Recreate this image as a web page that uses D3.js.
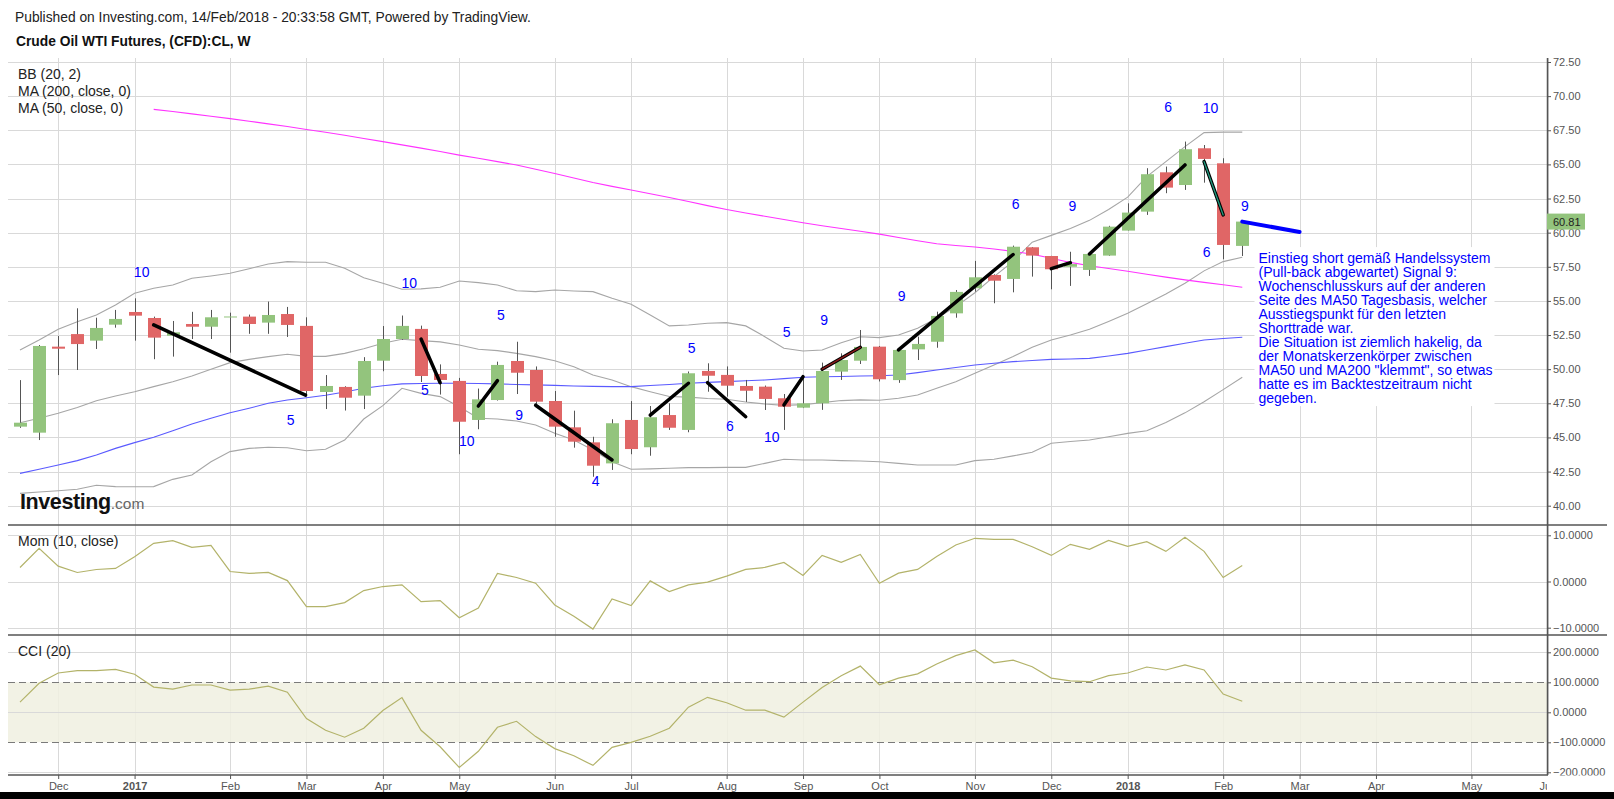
<!DOCTYPE html>
<html>
<head>
<meta charset="utf-8">
<script src="https://d3js.org/d3.v7.min.js"></script>
<style>
  body { margin: 0; background: #fff; }
  svg { display: block; }
  text { font-family: Arial, "Liberation Sans", sans-serif; }
</style>
</head>
<body>
<svg id="chart" width="1614" height="799"></svg>
<script>
// ---- data (weekly bars, first bar = week of 21 Nov 2016) ----
const firstWeek = '2016-11-21';

const opens  = [45.79,45.35,51.65,52.57,52.09,53.26,54.19,53.75,52.45,53.31,
                53.11,53.83,53.85,53.41,54.04,53.17,48.33,48.70,48.06,50.62,
                52.21,52.95,49.65,49.14,46.28,47.74,50.60,49.94,47.67,45.74,
                44.64,43.10,46.28,44.28,46.64,45.55,49.87,49.58,48.77,48.72,
                47.87,47.18,47.50,49.82,50.62,51.65,49.20,51.45,52.01,54.09,
                55.93,56.90,56.61,58.93,58.29,57.50,57.27,58.32,60.15,61.54,
                64.42,63.49,66.18,65.08,59.03];
const highs  = [49.20,51.77,52.43,54.46,53.77,54.34,55.19,53.85,53.53,54.20,
                54.34,54.14,54.00,54.95,54.56,53.80,49.57,48.75,50.88,53.16,
                53.93,53.19,50.35,49.36,48.58,50.55,52.01,50.20,48.40,46.96,
                45.05,46.33,47.66,47.30,47.50,49.83,50.43,50.20,49.21,48.80,
                48.18,49.45,50.48,51.16,52.87,51.70,51.50,52.38,54.21,55.80,
                57.93,56.95,59.05,58.95,58.30,58.60,58.44,60.50,62.15,64.72,
                64.84,66.67,66.42,65.45,60.81];
const lows   = [45.70,44.81,49.57,49.94,51.48,53.04,52.09,50.73,50.92,52.21,
                52.21,51.21,52.59,52.59,52.36,47.99,47.08,46.97,47.08,49.85,
                52.15,49.06,48.14,43.77,45.60,47.70,48.18,47.38,45.05,44.25,
                42.12,42.62,43.77,43.66,45.55,45.38,48.35,47.99,47.60,47.01,
                45.55,47.15,47.02,49.21,50.38,49.10,49.00,50.67,51.57,53.77,
                55.68,54.83,55.63,56.78,55.85,56.10,56.83,58.30,60.15,61.30,
                62.89,63.13,63.66,58.05,58.29];
const closes = [46.08,51.70,51.50,51.84,53.02,53.68,53.92,52.31,52.70,53.11,
                53.80,53.86,53.31,53.97,53.24,48.40,48.77,47.91,50.60,52.21,
                53.17,49.50,49.21,46.15,47.79,50.31,49.74,47.62,45.79,44.69,
                42.93,46.04,44.15,46.48,45.71,49.70,49.52,48.79,48.42,47.82,
                47.25,47.50,49.87,50.67,51.63,49.26,51.41,51.85,53.90,55.66,
                56.73,56.48,58.97,58.32,57.32,57.70,58.44,60.44,61.47,64.28,
                63.30,66.11,65.40,59.10,60.81];

const bbUpper  = [51.41,52.14,52.92,53.48,53.97,54.70,55.56,55.93,56.17,56.66,
                  56.83,57.03,57.36,57.71,57.88,57.83,57.83,57.39,56.70,56.29,
                  55.85,55.88,56.00,56.46,56.34,56.17,55.75,55.68,55.80,55.73,
                  55.68,55.19,54.75,53.97,53.17,53.24,53.36,53.41,53.17,52.38,
                  51.53,51.33,51.41,51.94,52.38,52.31,52.50,53.00,53.73,54.58,
                  55.60,56.78,57.90,59.30,59.80,60.30,60.90,61.70,62.60,64.10,
                  65.20,66.30,67.33,67.36,67.36];
const bbMiddle = [46.08,46.40,46.77,47.20,47.69,48.04,48.35,48.72,49.08,49.50,
                  49.99,50.48,50.72,50.92,51.09,50.94,50.94,51.16,51.50,51.90,
                  52.19,52.09,52.00,51.77,51.46,51.36,51.16,50.92,50.62,50.18,
                  49.57,49.21,48.72,48.35,48.00,47.95,47.85,47.80,47.60,47.45,
                  47.35,47.40,47.55,47.70,47.75,47.72,47.87,48.11,48.60,49.08,
                  49.70,50.31,50.92,51.60,52.14,52.51,52.92,53.50,54.10,54.80,
                  55.50,56.30,57.20,57.88,58.20];
const bbLower  = [40.90,41.00,41.10,41.20,41.50,41.40,41.39,41.40,41.93,42.25,
                  43.22,43.96,44.20,44.28,44.25,44.03,44.13,44.81,46.35,47.33,
                  48.60,48.23,47.99,47.25,46.40,46.35,46.20,45.91,45.30,44.81,
                  44.08,43.22,42.67,42.70,42.74,42.79,42.79,42.81,42.81,43.10,
                  43.40,43.35,43.35,43.30,43.27,43.22,43.10,42.98,42.98,42.98,
                  43.30,43.40,43.65,43.91,44.57,44.70,44.81,45.05,45.30,45.49,
                  46.10,46.80,47.62,48.50,49.41];
const ma50     = [42.37,42.67,42.98,43.30,43.71,44.20,44.62,45.01,45.49,45.99,
                  46.40,46.81,47.14,47.50,47.74,47.91,48.09,48.33,48.60,48.79,
                  48.92,48.95,48.97,48.97,48.95,48.92,48.88,48.85,48.81,48.77,
                  48.74,48.72,48.72,48.80,48.88,48.97,49.03,49.09,49.15,49.21,
                  49.31,49.41,49.44,49.46,49.50,49.52,49.57,49.75,49.94,50.12,
                  50.31,50.43,50.55,50.64,50.72,50.75,50.79,50.97,51.16,51.40,
                  51.65,51.90,52.14,52.25,52.34];
const ma200    = [null,null,null,null,null,null,null,69.03,68.87,68.70,
                  68.53,68.35,68.16,67.97,67.77,67.56,67.35,67.13,66.90,66.67,
                  66.43,66.19,65.94,65.68,65.45,65.20,64.95,64.65,64.33,64.00,
                  63.67,63.39,63.12,62.85,62.57,62.28,61.98,61.69,61.44,61.20,
                  60.96,60.72,60.51,60.31,60.10,59.89,59.65,59.41,59.19,59.06,
                  58.95,58.80,58.63,58.42,58.12,57.82,57.57,57.37,57.17,56.95,
                  56.74,56.54,56.36,56.18,56.00];

const momValues = [3.04,7.17,3.33,1.95,2.60,2.83,5.35,8.26,8.83,7.39,
                   7.83,2.17,1.74,1.96,0.20,-5.43,-5.43,-4.57,-1.96,-1.09,
                   -0.72,-4.35,-4.13,-7.83,-5.73,1.74,0.87,-0.37,-5.09,-7.54,
                   -10.30,-3.78,-5.22,0.13,-2.17,-0.74,-0.15,1.15,2.61,3.04,
                   4.13,1.30,5.65,4.13,5.87,-0.37,1.80,2.61,5.43,7.89,
                   9.35,9.13,9.13,7.52,5.65,8.04,6.96,8.91,7.61,8.61,
                   6.52,9.57,6.52,0.87,3.48];
const cciValues = [34,97,131,139,139,143,127,84,77,91,
                   91,74,77,87,67,-21,-60,-83,-53,6,
                   49,-60,-115,-184,-130,-50,-30,-81,-121,-145,
                   -177,-117,-100,-80,-53,17,50,32,7,7,
                   -16,34,83,122,154,92,114,128,161,189,
                   208,165,174,152,114,105,102,122,131,151,
                   141,158,141,61,37];

// month axis: [year, month(0-based), label]
const monthTicks = [[2016,11,'Dec'],[2017,0,'2017'],[2017,1,'Feb'],[2017,2,'Mar'],[2017,3,'Apr'],
                    [2017,4,'May'],[2017,5,'Jun'],[2017,6,'Jul'],[2017,7,'Aug'],[2017,8,'Sep'],
                    [2017,9,'Oct'],[2017,10,'Nov'],[2017,11,'Dec'],[2018,0,'2018'],[2018,1,'Feb'],
                    [2018,2,'Mar'],[2018,3,'Apr'],[2018,4,'May'],[2018,5,'Jun']];
const priceTicks = [40,42.5,45,47.5,50,52.5,55,57.5,60,62.5,65,67.5,70,72.5];
const momTicks = [10,0,-10];
const cciTicks = [200,100,0,-100,-200];

// drawings: [bar from, price from, bar to, price to, style]
const trendLines = [
  [7,53.24,14.95,48.10,'k'], [21,52.21,22,49.01,'k'], [24,47.30,25,49.16,'k'],
  [27,47.36,31,43.35,'k'], [33,46.64,35,48.97,'k'], [36,49.01,38,46.52,'k'],
  [40,47.38,41,49.45,'k'], [42,50.00,44,51.60,'r'], [46,51.41,52,58.40,'k'],
  [54,57.36,55,57.80,'k'], [56,58.44,61,64.96,'k'], [62,65.20,63,61.30,'g'],
  [64,60.81,67,60.05,'b']
];
// wave counts: [bar, price, text]
const waveLabels = [
  [6.37,57.14,'10'],[20.38,56.29,'10'],[14.17,46.28,'5'],[21.2,48.48,'5'],
  [25.18,53.97,'5'],[23.39,44.74,'10'],[26.14,46.64,'9'],[30.14,41.81,'4'],
  [35.17,51.53,'5'],[37.17,45.84,'6'],[40.14,52.75,'5'],[39.36,45.01,'10'],
  [42.11,53.6,'9'],[46.16,55.36,'9'],[52.13,62.08,'6'],[55.11,61.96,'9'],
  [60.12,69.19,'6'],[62.34,69.11,'10'],[64.14,61.96,'9'],[62.13,58.61,'6']
];
const noteLines = [
  'Einstieg short gemäß Handelssystem',
  '(Pull-back abgewartet) Signal 9:',
  'Wochenschlusskurs auf der anderen',
  'Seite des MA50 Tagesbasis, welcher',
  'Ausstiegspunkt für den letzten',
  'Shorttrade war.',
  'Die Situation ist ziemlich hakelig, da',
  'der Monatskerzenkörper zwischen',
  'MA50 und MA200 "klemmt", so etwas',
  'hatte es im Backtestzeitraum nicht',
  'gegeben.'
];

// ---- layout ----
const svg = d3.select('#chart');
const plotLeft = 8, axisX = 1547, sepRight = 1607;
const chartTop = 58, sep1 = 525, sep2 = 635, bottomAxisY = 775;
const green = '#93c47d', red = '#e06666';
const WEEK = 7 * 24 * 3600 * 1000;

const start = new Date(firstWeek);
const weeks = d3.utcMonday.range(start, d3.utcMonday.offset(start, closes.length));

const x = d3.scaleUtc()
  .domain([start, d3.utcMonday.offset(start, 80)])
  .range([20, 20 + 80 * 19.098]);
const xi = i => x(new Date(+start + i * WEEK));
const y = d3.scaleLinear().domain([40, 72.5]).range([505.7, 62]);
const yMom = d3.scaleLinear().domain([-10, 10]).range([627.7, 535.3]);
const yCci = d3.scaleLinear().domain([-200, 200]).range([772.3, 652.3]);

const monthDates = monthTicks.map(m => d3.utcMonday.ceil(new Date(Date.UTC(m[0], m[1], 1))));

// ---- header ----
svg.append('text').attr('x', 15).attr('y', 21.5)
  .attr('font-size', 13.8).attr('fill', '#222')
  .text('Published on Investing.com, 14/Feb/2018 - 20:33:58 GMT, Powered by TradingView.');
svg.append('text').attr('x', 16).attr('y', 46)
  .attr('font-size', 13.8).attr('font-weight', 'bold').attr('fill', '#111')
  .text('Crude Oil WTI Futures, (CFD):CL, W');

// ---- grid ----
const grid = svg.append('g').attr('stroke', '#d9d9d9').attr('stroke-width', 1);
grid.selectAll('.vg').data(monthDates).join('line')
  .attr('x1', d => Math.round(x(d)) + 0.5).attr('x2', d => Math.round(x(d)) + 0.5)
  .attr('y1', chartTop).attr('y2', bottomAxisY);

// CCI band
svg.append('rect')
  .attr('x', plotLeft).attr('width', axisX - plotLeft)
  .attr('y', yCci(100)).attr('height', yCci(-100) - yCci(100))
  .attr('fill', '#f0f0e1').attr('opacity', 0.85);

const hgrid = svg.append('g').attr('stroke', '#d9d9d9').attr('stroke-width', 1);
hgrid.selectAll('.pg').data(priceTicks).join('line')
  .attr('x1', plotLeft).attr('x2', axisX)
  .attr('y1', d => Math.round(y(d)) + 0.5).attr('y2', d => Math.round(y(d)) + 0.5);
hgrid.selectAll('.mg').data(momTicks).join('line')
  .attr('x1', plotLeft).attr('x2', axisX)
  .attr('y1', d => Math.round(yMom(d)) + 0.5).attr('y2', d => Math.round(yMom(d)) + 0.5);
hgrid.selectAll('.cg').data([200, 0, -200]).join('line')
  .attr('x1', plotLeft).attr('x2', axisX)
  .attr('y1', d => Math.round(yCci(d)) + 0.5).attr('y2', d => Math.round(yCci(d)) + 0.5);
svg.append('g').selectAll('line').data([100, -100]).join('line')
  .attr('x1', plotLeft).attr('x2', axisX)
  .attr('y1', d => Math.round(yCci(d)) + 0.5).attr('y2', d => Math.round(yCci(d)) + 0.5)
  .attr('stroke', '#7a7a7a').attr('stroke-dasharray', '7,4');

// note box (hides the grid behind the text)
const noteX = xi(64.85), noteTop = y(58.87);
svg.append('rect').attr('x', noteX - 4).attr('y', noteTop - 1)
  .attr('width', 240).attr('height', 159).attr('fill', '#fff');

// ---- indicator lines ----
const lineOf = (arr, ys) => d3.line()
  .defined(d => d != null)
  .x((d, i) => x(weeks[i]))
  .y(d => ys(d))(arr);

[[bbUpper, '#a6a6a6'], [bbMiddle, '#a6a6a6'], [bbLower, '#a6a6a6'],
 [ma50, '#5a5aff'], [ma200, '#ff33ff']].forEach(([arr, col]) => {
  svg.append('path').attr('d', lineOf(arr, y))
    .attr('fill', 'none').attr('stroke', col).attr('stroke-width', 1.1);
});

svg.append('path').attr('d', lineOf(momValues, yMom))
  .attr('fill', 'none').attr('stroke', '#b3b36a').attr('stroke-width', 1.2);
svg.append('path').attr('d', lineOf(cciValues, yCci))
  .attr('fill', 'none').attr('stroke', '#b3b36a').attr('stroke-width', 1.2);

// ---- candles ----
const bars = weeks.map((d, i) => ({ d, o: opens[i], h: highs[i], l: lows[i], c: closes[i] }));
const gC = svg.append('g');
gC.selectAll('line').data(bars).join('line')
  .attr('x1', d => Math.round(x(d.d)) + 0.5).attr('x2', d => Math.round(x(d.d)) + 0.5)
  .attr('y1', d => y(d.h)).attr('y2', d => y(d.l))
  .attr('stroke', '#555').attr('stroke-width', 1);
gC.selectAll('rect').data(bars).join('rect')
  .attr('x', d => Math.round(x(d.d)) - 6).attr('width', 13)
  .attr('y', d => y(Math.max(d.o, d.c)))
  .attr('height', d => Math.max(1, Math.abs(y(d.o) - y(d.c))))
  .attr('fill', d => d.c >= d.o ? green : red);

// ---- drawings ----
const gT = svg.append('g').attr('stroke-linecap', 'round');
trendLines.forEach(([i1, p1, i2, p2, s]) => {
  const seg = sel => sel.attr('x1', xi(i1)).attr('y1', y(p1)).attr('x2', xi(i2)).attr('y2', y(p2));
  if (s === 'b') {
    seg(gT.append('line')).attr('stroke', '#0000ff').attr('stroke-width', 4);
    return;
  }
  seg(gT.append('line')).attr('stroke', '#000').attr('stroke-width', 3.5);
  if (s === 'r') seg(gT.append('line')).attr('stroke', '#8b1a1a').attr('stroke-width', 1.3);
  if (s === 'g') seg(gT.append('line')).attr('stroke', '#1f9a7e').attr('stroke-width', 1.3);
});

svg.append('g').selectAll('text').data(waveLabels).join('text')
  .attr('x', d => xi(d[0])).attr('y', d => y(d[1]))
  .attr('text-anchor', 'middle').attr('dominant-baseline', 'central')
  .attr('font-size', 14).attr('fill', '#0000ff')
  .text(d => d[2]);

svg.append('g').selectAll('text').data(noteLines).join('text')
  .attr('x', noteX).attr('y', (d, i) => noteTop + 14.5 + i * 14)
  .attr('font-size', 14).attr('fill', '#0000ff')
  .text(d => d);

// ---- frame ----
const frame = svg.append('g').attr('stroke', '#555').attr('stroke-width', 1.5);
frame.append('line').attr('x1', plotLeft).attr('x2', sepRight).attr('y1', sep1).attr('y2', sep1);
frame.append('line').attr('x1', plotLeft).attr('x2', sepRight).attr('y1', sep2).attr('y2', sep2);
frame.append('line').attr('x1', axisX + 0.5).attr('x2', axisX + 0.5).attr('y1', chartTop).attr('y2', bottomAxisY);

// ---- right axes ----
const styleAxis = g => {
  g.select('.domain').remove();
  g.selectAll('.tick line').attr('stroke', '#555');
  g.selectAll('.tick text').attr('fill', '#555').attr('font-size', 11)
    .attr('font-family', 'Arial, "Liberation Sans", sans-serif');
};
svg.append('g').attr('transform', `translate(${axisX},0)`)
  .call(d3.axisRight(y).tickValues(priceTicks).tickFormat(d3.format('.2f')).tickSize(4).tickPadding(2))
  .call(styleAxis);
svg.append('g').attr('transform', `translate(${axisX},0)`)
  .call(d3.axisRight(yMom).tickValues(momTicks).tickFormat(d3.format('.4f')).tickSize(4).tickPadding(2))
  .call(styleAxis);
svg.append('g').attr('transform', `translate(${axisX},0)`)
  .call(d3.axisRight(yCci).tickValues(cciTicks).tickFormat(d3.format('.4f')).tickSize(4).tickPadding(2))
  .call(styleAxis);

// last price badge
const lastClose = closes[closes.length - 1];
svg.append('rect').attr('x', axisX).attr('y', y(lastClose) - 8)
  .attr('width', 38).attr('height', 16).attr('fill', green);
svg.append('text').attr('x', axisX + 6).attr('y', y(lastClose) + 4)
  .attr('font-size', 11).attr('fill', '#222').text(d3.format('.2f')(lastClose));

// ---- bottom axis ----
svg.append('rect').attr('x', 0).attr('y', bottomAxisY + 0.5).attr('width', 1614).attr('height', 18).attr('fill', '#fff');
svg.append('clipPath').attr('id', 'xclip')
  .append('rect').attr('x', 0).attr('y', -2).attr('width', axisX).attr('height', 30);
const xAxisG = svg.append('g').attr('transform', `translate(0,${bottomAxisY})`)
  .attr('clip-path', 'url(#xclip)')
  .call(d3.axisBottom(x).tickValues(monthDates).tickFormat((d, i) => monthTicks[i][2]).tickSize(4).tickPadding(3));
xAxisG.select('.domain').remove();
xAxisG.selectAll('.tick line').attr('stroke', '#555');
xAxisG.selectAll('.tick text').attr('fill', '#555').attr('font-size', 11)
  .attr('font-family', 'Arial, "Liberation Sans", sans-serif')
  .attr('font-weight', (d, i) => /^\d+$/.test(monthTicks[i][2]) ? 'bold' : 'normal');
svg.append('line').attr('x1', plotLeft).attr('x2', axisX + 1).attr('y1', bottomAxisY).attr('y2', bottomAxisY)
  .attr('stroke', '#555').attr('stroke-width', 1.5);
svg.append('rect').attr('x', 0).attr('y', 792).attr('width', 1614).attr('height', 7).attr('fill', '#000');

// ---- legends ----
const legend = [['BB (20, 2)', 78.5], ['MA (200, close, 0)', 95.5], ['MA (50, close, 0)', 112.5],
                ['Mom (10, close)', 546], ['CCI (20)', 656]];
svg.append('g').selectAll('text').data(legend).join('text')
  .attr('x', 18).attr('y', d => d[1]).attr('font-size', 14).attr('fill', '#222')
  .text(d => d[0]);

// ---- logo ----
const logo = svg.append('text').attr('x', 20).attr('y', 509);
logo.append('tspan').attr('font-size', 21.5).attr('font-weight', 'bold').attr('fill', '#111')
  .attr('letter-spacing', -0.4).text('Investing');
logo.append('tspan').attr('font-size', 15.5).attr('fill', '#666').text('.com');
</script>
</body>
</html>
